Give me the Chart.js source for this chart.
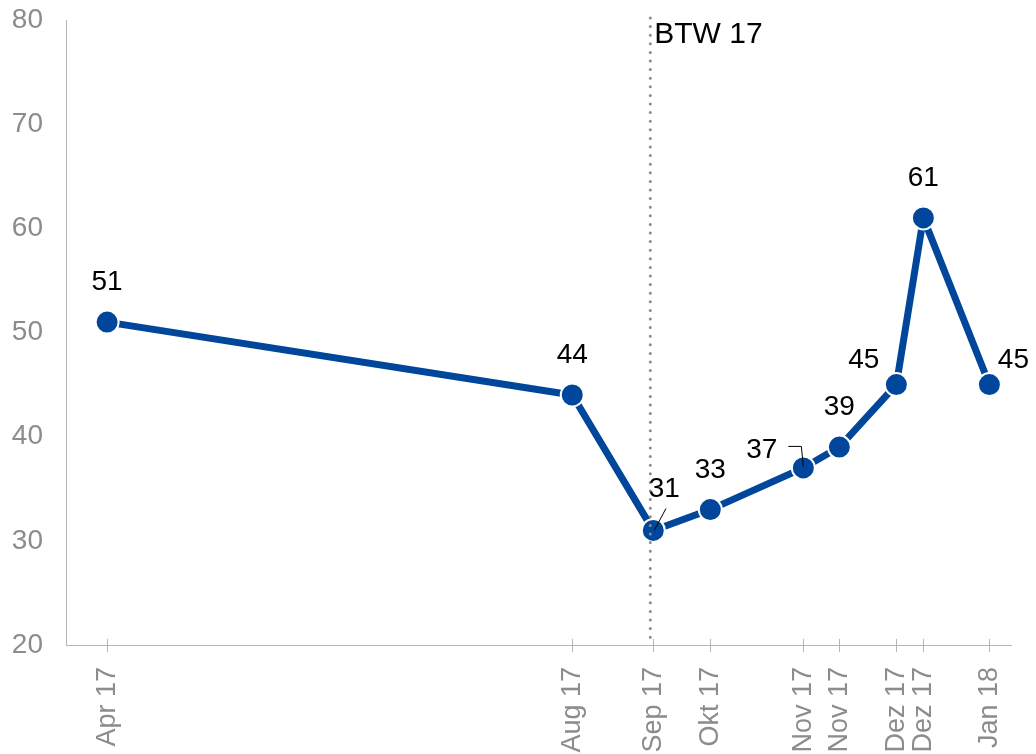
<!DOCTYPE html>
<html>
<head>
<meta charset="utf-8">
<script src="https://cdn.jsdelivr.net/npm/chart.js@4.4.1/dist/chart.umd.min.js"></script>
<style>
  html, body { margin: 0; padding: 0; background: #fff; }
  #wrap { width: 1036px; height: 754px; }
</style>
</head>
<body>
<div id="wrap"><canvas id="myChart" width="1036" height="754"></canvas></div>
<script>
const pollDays = [0, 155, 182, 201, 232, 244, 263, 272, 294];
const pollLabels = ['Apr 17', 'Aug 17', 'Sep 17', 'Okt 17', 'Nov 17', 'Nov 17', 'Dez 17', 'Dez 17', 'Jan 18'];
const pollValues = [51, 44, 31, 33, 37, 39, 45, 61, 45];
const yTicks = [20, 30, 40, 50, 60, 70, 80];
const electionDay = 181;
const electionLabel = 'BTW 17';

const blue = '#00469b';
const axisGrey = '#b4b4b4';
const font = 'Arial, "Liberation Sans", sans-serif';

// value labels: default above the point, some moved aside with a leader line
const labelShift = {
  2: { dx: 11, dy: -33, leader: [[12.7, -22], [1, 0]] },
  4: { dx: -41.6, dy: -9.5, leader: [[-15, -21.5], [-2, -21.5], [0, -1.5]] },
  6: { dx: -32.5, dy: -16.6 },
  8: { dx: 24, dy: -16.6 }
};

const extras = {
  id: 'extras',
  afterDatasetsDraw(chart) {
    const ctx = chart.ctx;
    const x = chart.scales.x, y = chart.scales.y;
    ctx.save();

    // crossing tick marks on the x axis
    ctx.strokeStyle = axisGrey;
    ctx.lineWidth = 1;
    pollDays.forEach(d => {
      const px = Math.round(x.getPixelForValue(d)) + 0.5;
      ctx.beginPath();
      ctx.moveTo(px, y.bottom - 6);
      ctx.lineTo(px, y.bottom + 7);
      ctx.stroke();
    });

    // election marker
    const ex = x.getPixelForValue(electionDay);
    ctx.strokeStyle = '#8a8a8a';
    ctx.lineWidth = 3;
    ctx.lineCap = 'round';
    ctx.setLineDash([0, 8.6]);
    ctx.beginPath();
    ctx.moveTo(ex, y.top - 2);
    ctx.lineTo(ex, y.bottom);
    ctx.stroke();
    ctx.setLineDash([]);

    ctx.fillStyle = '#000';
    ctx.font = '30px ' + font;
    ctx.textAlign = 'left';
    ctx.textBaseline = 'alphabetic';
    ctx.fillText(electionLabel, ex + 4, y.top + 23);

    // value labels
    const meta = chart.getDatasetMeta(0);
    ctx.font = '28px ' + font;
    ctx.textAlign = 'center';
    meta.data.forEach((pt, i) => {
      const s = labelShift[i] || { dx: 0, dy: -32 };
      ctx.fillStyle = '#000';
      ctx.fillText(String(pollValues[i]), pt.x + s.dx, pt.y + s.dy);
      if (s.leader) {
        ctx.strokeStyle = '#000';
        ctx.lineWidth = 1;
        ctx.lineCap = 'butt';
        ctx.beginPath();
        s.leader.forEach((p, k) => {
          if (k === 0) ctx.moveTo(pt.x + p[0], pt.y + p[1]);
          else ctx.lineTo(pt.x + p[0], pt.y + p[1]);
        });
        ctx.stroke();
      }
    });
    ctx.restore();
  }
};

const ctx = document.getElementById('myChart').getContext('2d');
const myChart = new Chart(ctx, {
  type: 'line',
  data: {
    datasets: [{
      data: pollDays.map((d, i) => ({ x: d, y: pollValues[i] })),
      borderColor: blue,
      borderWidth: 7,
      backgroundColor: blue,
      pointBackgroundColor: blue,
      pointBorderColor: '#fff',
      pointBorderWidth: 2,
      pointRadius: 11.5,
      tension: 0,
      clip: false
    }]
  },
  options: {
    responsive: false,
    animation: false,
    layout: { padding: { left: 0, right: 25, top: 20, bottom: 0 } },
    plugins: {
      legend: { display: false },
      tooltip: { enabled: false }
    },
    scales: {
      x: {
        type: 'linear',
        min: -13.7,
        max: 301.2,
        afterBuildTicks: scale => {
          scale.ticks = pollDays.map(v => ({ value: v }));
        },
        afterFit: scale => {
          scale.height = 109;
          scale.paddingLeft = 0;
          scale.paddingRight = 0;
        },
        grid: { display: false, drawTicks: false },
        border: { color: axisGrey, width: 1 },
        ticks: {
          autoSkip: false,
          minRotation: 90,
          maxRotation: 90,
          padding: 22,
          color: '#8c8c8c',
          font: { family: font, size: 27 },
          callback: (v, i) => pollLabels[i]
        }
      },
      y: {
        min: 20,
        max: 80,
        afterBuildTicks: scale => {
          scale.ticks = yTicks.map(v => ({ value: v }));
        },
        afterFit: scale => {
          scale.width = 66;
          scale.paddingTop = 0;
          scale.paddingBottom = 0;
        },
        grid: { display: false, drawTicks: false },
        border: { color: axisGrey, width: 1 },
        ticks: {
          padding: 23,
          color: '#8c8c8c',
          font: { family: font, size: 28 }
        }
      }
    }
  },
  plugins: [extras]
});
</script>
</body>
</html>
